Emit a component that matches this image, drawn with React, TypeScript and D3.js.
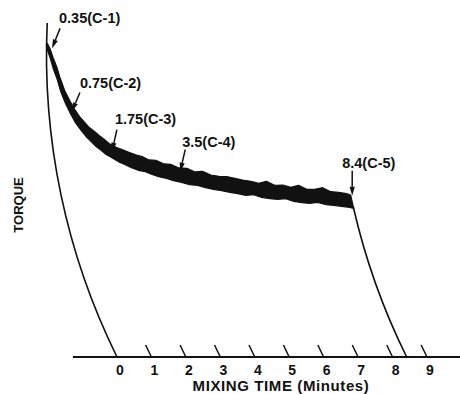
import * as d3 from "d3";

// mixing time ticks (minutes)
const minuteTicks = [0, 1, 2, 3, 4, 5, 6, 7, 8, 9];

// recorder trace: thick noisy torque band, upper / lower edge (torque units)
const bandTime = [
  0.02, 0.11, 0.19, 0.3, 0.38, 0.5, 0.63, 0.75, 0.88, 1.0, 1.13, 1.26, 1.39, 1.52, 1.65, 1.84,
  2.0, 2.19, 2.38, 2.58, 2.74, 2.94, 3.16, 3.35, 3.57, 3.8, 4.02, 4.24, 4.46, 4.69, 4.92, 5.14,
  5.36, 5.59, 5.81, 6.04, 6.26, 6.5, 6.72, 6.95, 7.17, 7.4, 7.64, 7.85, 8.07, 8.3, 8.41,
];
const bandUpper = [
  939, 921, 897, 867, 837, 798, 768, 742, 720, 704, 687, 676, 663, 652, 639, 628,
  621, 613, 605, 599, 590, 589, 578, 577, 566, 565, 554, 556, 545, 541, 540, 535,
  530, 526, 520, 526, 514, 515, 508, 514, 502, 502, 507, 495, 493, 489, 485,
];
const bandLower = [
  921, 894, 864, 831, 796, 760, 727, 700, 679, 661, 646, 630, 619, 606, 598, 585,
  577, 567, 559, 555, 547, 540, 535, 528, 523, 516, 514, 507, 502, 498, 493, 489,
  484, 486, 478, 474, 472, 474, 466, 462, 460, 463, 456, 454, 451, 448, 445,
];

// pen strokes: loading at t=0 up to the peak, unloading at the end
const penStrokeTime = [0, 8.41];
const penStrokeFrom = [0, 450];
const penStrokeTo = [1000, 0];

// sample callouts
const calloutLabels = ["0.35(C-1)", "0.75(C-2)", "1.75(C-3)", "3.5(C-4)", "8.4(C-5)"];
const calloutTime = [0.16, 0.67, 1.7, 3.59, 8.45];
const calloutTorque = [924, 735, 615, 555, 483];

// layout
const W = 460;
const H = 394;
const PEN_R = 682; // recorder pen arm radius (px)
const PIVOT_Y = 55;
const AXIS_START = -1.28;
const TICK_LEN = 36; // torque units the time-line ticks rise
const FONT = "'Liberation Sans', Arial, sans-serif";
// arrow tail offset from tip, label offset from tail
const calloutLayout = [
  { dx: 8, dy: -20, lx: -1, ly: -5 },
  { dx: 8, dy: -19, lx: 0, ly: -5 },
  { dx: 5, dy: -22, lx: -2, ly: -6 },
  { dx: 5, dy: -22, lx: -3, ly: -3 },
  { dx: 0, dy: -25, lx: -10, ly: -3 },
];

export default function App() {
  const x = d3.scaleLinear().domain([0, 9]).range([117, 427]);
  const y = d3.scaleLinear().domain([0, 1000]).range([357, 23]);

  const chord = (py: number) => Math.sqrt(PEN_R * PEN_R - (py - PIVOT_Y) ** 2);
  const lag = (py: number) => chord(py) - chord(y(0));
  const px = (t: number, tq: number) => x(t) - lag(y(tq));

  const penArc = (t: number, a: number, b: number) =>
    `M${px(t, a)},${y(a)} A${PEN_R},${PEN_R} 0 0 ${a > b ? 0 : 1} ${px(t, b)},${y(b)}`;

  const rows = bandTime.map((t, i) => ({ t, hi: bandUpper[i], lo: bandLower[i] }));
  const band = d3
    .area<{ t: number; hi: number; lo: number }>()
    .x0((d) => px(d.t, d.lo))
    .y0((d) => y(d.lo))
    .x1((d) => px(d.t, d.hi))
    .y1((d) => y(d.hi));

  const callouts = calloutLabels.map((label, i) => {
    const tx = px(calloutTime[i], calloutTorque[i]);
    const ty = y(calloutTorque[i]);
    const L = calloutLayout[i];
    const sx = tx + L.dx;
    const sy = ty + L.dy;
    const len = Math.hypot(L.dx, L.dy);
    const ux = -L.dx / len;
    const uy = -L.dy / len;
    const hl = 9;
    const hw = 2.6;
    const bx = tx - ux * hl;
    const by = ty - uy * hl;
    const head = `M${tx},${ty} L${bx - uy * hw},${by + ux * hw} L${bx + uy * hw},${by - ux * hw} Z`;
    return { label, tx, ty, sx, sy, bx, by, head, L };
  });

  return (
    <svg
      width={W}
      height={H}
      style={{ position: "absolute", left: 0, top: 0, background: "#fff" }}
      fontFamily={FONT}
      fontWeight="bold"
    >
      {/* time axis */}
      <path d={`M${x(AXIS_START)},${y(0)} H${W}`} stroke="#111" strokeWidth={1.8} fill="none" />
      {minuteTicks
        .filter((t) => t > 0)
        .map((t) => (
          <path key={t} d={penArc(t, TICK_LEN, 0)} stroke="#111" strokeWidth={1.5} fill="none" />
        ))}
      {minuteTicks.map((t) => (
        <text key={t} x={x(t) + 3} y={375} fontSize={14} textAnchor="middle" fill="#111">
          {t}
        </text>
      ))}
      <text x={281} y={391} fontSize={15} textAnchor="middle" letterSpacing={0.6} fill="#111">
        MIXING TIME (Minutes)
      </text>
      <text
        transform="translate(23,205) rotate(-90)"
        fontSize={13}
        textAnchor="middle"
        fill="#111"
      >
        TORQUE
      </text>

      {/* pen strokes */}
      {penStrokeTime.map((t, i) => (
        <path
          key={i}
          d={penArc(t, Math.max(penStrokeFrom[i], penStrokeTo[i]), Math.min(penStrokeFrom[i], penStrokeTo[i]))}
          stroke="#111"
          strokeWidth={1.6}
          fill="none"
        />
      ))}

      {/* torque band */}
      <path d={band(rows) ?? ""} fill="#111" stroke="#111" strokeWidth={1.2} strokeLinejoin="round" />

      {/* callouts */}
      {callouts.map((c, i) => (
        <g key={i}>
          <line x1={c.sx} y1={c.sy} x2={c.bx} y2={c.by} stroke="#111" strokeWidth={1.5} />
          <path d={c.head} fill="#111" />
          <text x={c.sx + c.L.lx} y={c.sy + c.L.ly} fontSize={14.5} fill="#111">
            {c.label}
          </text>
        </g>
      ))}
    </svg>
  );
}
